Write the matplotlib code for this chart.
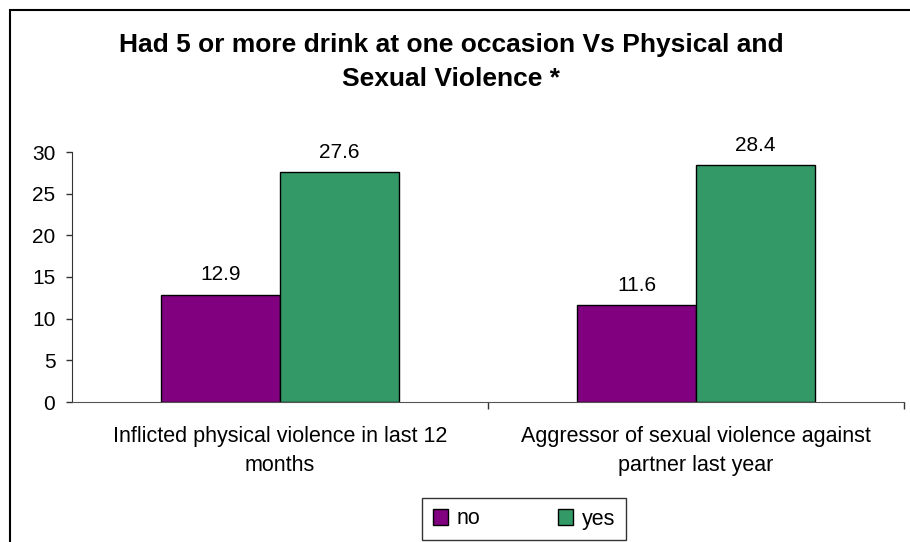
import matplotlib
matplotlib.use("Agg")
import matplotlib.pyplot as plt
from matplotlib.patches import Rectangle
import numpy as np

# data
categories = ["Inflicted physical violence in last 12\nmonths",
              "Aggressor of sexual violence against\npartner last year"]
series_names = ["no", "yes"]
no_vals = [12.9, 11.6]
yes_vals = [27.6, 28.4]
yticks = [0, 5, 10, 15, 20, 25, 30]

plt.rcParams['font.family'] = ['Liberation Sans', 'DejaVu Sans']

fig = plt.figure(figsize=(9.1, 5.42), dpi=100)
ax = fig.add_axes([72/910, 1-402/542, (904-72)/910, 250/542])

x = np.arange(len(categories))
w = 1/3.5
b1 = ax.bar(x - w/2, no_vals, w, color='#800080', edgecolor='black', linewidth=1, label=series_names[0])
b2 = ax.bar(x + w/2, yes_vals, w, color='#339966', edgecolor='black', linewidth=1, label=series_names[1])

for bars, vals in ((b1, no_vals), (b2, yes_vals)):
    for r, v in zip(bars, vals):
        ax.annotate(f"{v:.1f}", (r.get_x() + r.get_width()/2, v),
                    xytext=(0, 7.5), textcoords='offset points',
                    ha='center', va='bottom', fontsize=15)

ax.set_xlim(-0.5, len(categories) - 0.5)
ax.set_ylim(0, 30)
ax.set_yticks(yticks)
ax.tick_params(axis='y', labelsize=15, length=4, width=1, pad=8, color='#333333')

# category labels between boundary ticks
ax.set_xticks(x)
ax.set_xticklabels(categories, fontsize=15.5, linespacing=1.5)
ax.tick_params(axis='x', length=0, pad=17)
ax.set_xticks([0.5, 1.5], minor=True)
ax.tick_params(axis='x', which='minor', length=5, width=1, color='#333333', direction='out')

for s in ['top', 'right']:
    ax.spines[s].set_visible(False)
ax.spines['left'].set_color('#333333')
ax.spines['bottom'].set_color('#555555')

fig.text(451/910, 1-62/542,
         "Had 5 or more drink at one occasion Vs Physical and\nSexual Violence *",
         ha='center', va='center', fontsize=19, fontweight='bold', linespacing=1.5)

leg = ax.legend(loc='center', bbox_to_anchor=(524/910, 1-519/542),
                bbox_transform=fig.transFigure, ncol=2, fontsize=15.5,
                frameon=True, fancybox=False, edgecolor='black',
                handlelength=0.7, handleheight=0.7, columnspacing=3.6,
                handletextpad=0.4, borderpad=0.5, borderaxespad=0)
leg.get_frame().set_linewidth(1)

# outer chart border
fig.patches.append(Rectangle((9.5/910, -0.1), 1.2, 1 - 10/542 + 0.1,
                             transform=fig.transFigure, fill=False,
                             edgecolor='black', linewidth=1.5))

fig.savefig("out.png", dpi=100)
